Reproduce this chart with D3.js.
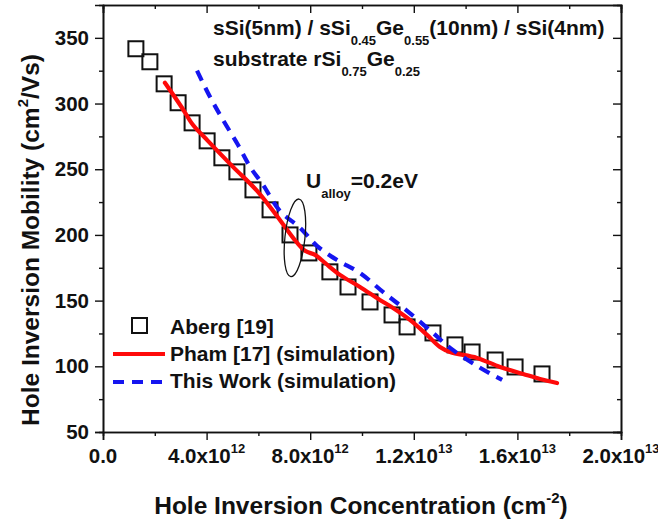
<!DOCTYPE html>
<html><head><meta charset="utf-8">
<script src="https://cdn.jsdelivr.net/npm/d3@7"></script>
<style>
body{margin:0;background:#fff}
text{font-family:"Liberation Sans",Arial,sans-serif;font-weight:bold;fill:#111}
</style>
</head><body>
<svg id="c" width="658" height="523"></svg>
<script>
// ---- data ----
const abergX = [1.27e12,1.81e12,2.36e12,2.90e12,3.44e12,4.02e12,4.59e12,5.17e12,5.79e12,6.45e12,7.22e12,7.95e12,8.76e12,9.46e12,1.031e13,1.116e13,1.174e13,1.274e13,1.359e13,1.425e13,1.514e13,1.591e13,1.695e13];
const abergY = [341.7,331.8,315,300.6,285.3,271.6,258.7,248,234.3,219.1,200,186.3,171.9,160.4,149,139.1,130,125.4,116.3,110.9,104.8,99.5,94.2];
const phamX = [2.39e12,3.05e12,3.47e12,4.05e12,5.02e12,5.95e12,6.83e12,7.34e12,7.80e12,8.19e12,8.57e12,9.15e12,9.92e12,1.069e13,1.12e13,1.185e13,1.251e13,1.301e13,1.34e13,1.444e13,1.533e13,1.622e13,1.687e13,1.753e13];
const phamY = [315.8,296.8,283.8,271.6,251.8,233.5,211.4,197.8,187.9,184.8,178.7,169.6,160.4,150.5,144.4,135.3,123.9,114.7,110.9,106.4,99.5,94.2,90.4,87.3];
const workX = [3.63e12,4.13e12,4.63e12,5.21e12,5.68e12,6.18e12,6.83e12,7.61e12,8.26e12,9.03e12,9.92e12,1.081e13,1.174e13,1.274e13,1.34e13,1.444e13,1.541e13];
const workY = [325,305.1,287.6,268.6,251.8,238.1,218.3,205.4,191.7,181,171.1,156.6,142.2,125.4,114,100.3,89.6];
const xMajor = [0,4e12,8e12,1.2e13,1.6e13,2e13];
const xMinor = [2e12,6e12,1e13,1.4e13,1.8e13];
const yMajor = [50,100,150,200,250,300,350];
const yMinor = [75,125,175,225,275,325];
const legendLabels = ["Aberg [19]","Pham [17] (simulation)","This Work (simulation)"];

const svg = d3.select("#c");
const L=103,R=621,T=5,B=432;
const x = d3.scaleLinear([0,2e13],[L,R]);
const y = d3.scaleLinear([50,375],[B,T]);

function fmtX(v){
  if(v===0) return ["0.0",null];
  const e=Math.floor(Math.log10(v)+1e-9);
  return [(v/Math.pow(10,e)).toFixed(1)+"x10", String(e)];
}

// axes
svg.append("g").attr("transform",`translate(0,${B})`)
  .call(d3.axisBottom(x).tickValues(xMajor).tickSize(8).tickFormat(""));
svg.append("g").attr("transform",`translate(0,${B})`)
  .call(d3.axisBottom(x).tickValues(xMinor).tickSize(4).tickFormat(""));
svg.append("g").attr("transform",`translate(0,${T})`)
  .call(d3.axisTop(x).tickValues(xMajor).tickSize(-8).tickFormat(""));
svg.append("g").attr("transform",`translate(0,${T})`)
  .call(d3.axisTop(x).tickValues(xMinor).tickSize(-4).tickFormat(""));
const gL = svg.append("g").attr("transform",`translate(${L},0)`)
  .call(d3.axisLeft(y).tickValues(yMajor).tickSize(8).tickPadding(6).tickFormat(d3.format("d")));
svg.append("g").attr("transform",`translate(${L},0)`)
  .call(d3.axisLeft(y).tickValues(yMinor).tickSize(4).tickFormat(""));
svg.append("g").attr("transform",`translate(${R},0)`)
  .call(d3.axisRight(y).tickValues(yMajor).tickSize(-8).tickFormat(""));
svg.append("g").attr("transform",`translate(${R},0)`)
  .call(d3.axisRight(y).tickValues(yMinor).tickSize(-4).tickFormat(""));
svg.selectAll(".domain").attr("stroke","#111").attr("stroke-width",1.6);
svg.selectAll(".tick line").attr("stroke","#111").attr("stroke-width",1.4);
gL.selectAll(".tick text").style("font-size","20.5px").attr("fill","#111")
  .style("font-family",'"Liberation Sans",Arial,sans-serif').style("font-weight","bold");

// x tick labels
xMajor.forEach(v=>{
  const [m,e]=fmtX(v);
  const t=svg.append("text").attr("x",x(v)).attr("y",463).attr("text-anchor","middle").style("font-size","20.5px");
  t.append("tspan").text(m);
  if(e){ t.append("tspan").attr("dy",-10).style("font-size","13px").text(e); }
});

// axis titles
const xt = svg.append("text").attr("x",361).attr("y",514).attr("text-anchor","middle").style("font-size","24.5px");
xt.append("tspan").text("Hole Inversion Concentration (cm");
xt.append("tspan").attr("dy",-11).style("font-size","15px").text("-2");
xt.append("tspan").attr("dy",11).text(")");

const yt = svg.append("text").attr("transform",`translate(39,240) rotate(-90)`).attr("text-anchor","middle").style("font-size","24.5px");
yt.append("tspan").text("Hole Inversion Mobility (cm");
yt.append("tspan").attr("dy",-11).style("font-size","15px").text("2");
yt.append("tspan").attr("dy",11).text("/Vs)");

// marks
const g = svg.append("g");
g.selectAll("rect.ab").data(abergX.map((d,i)=>[d,abergY[i]])).enter().append("rect")
  .attr("x",d=>x(d[0])-7.5).attr("y",d=>y(d[1])-7.5).attr("width",15).attr("height",15)
  .attr("fill","none").attr("stroke","#111").attr("stroke-width",2);
const line = d3.line().x(d=>x(d[0])).y(d=>y(d[1])).curve(d3.curveCatmullRom.alpha(0.5));
g.append("path").datum(phamX.map((d,i)=>[d,phamY[i]])).attr("d",line)
  .attr("fill","none").attr("stroke","#ff0a0a").attr("stroke-width",4.2).attr("stroke-linecap","round");
g.append("path").datum(workX.map((d,i)=>[d,workY[i]])).attr("d",line)
  .attr("fill","none").attr("stroke","#1515f0").attr("stroke-width",4.2).attr("stroke-dasharray","11,8").attr("stroke-linecap","butt");

// ellipse annotation
svg.append("ellipse").attr("cx",x(7.41e12)).attr("cy",y(197.8)).attr("rx",10).attr("ry",39)
  .attr("transform",`rotate(6,${x(7.41e12)},${y(197.8)})`)
  .attr("fill","none").attr("stroke","#111").attr("stroke-width",1.3);

// annotations
function rich(xp,yp,parts,size){
  const t=svg.append("text").attr("x",xp).attr("y",yp).style("font-size",size+"px");
  let cur=0;
  parts.forEach(p=>{
    const off=p[1]||0;
    const ts=t.append("tspan").text(p[0]).attr("dy",off-cur);
    if(p[2]) ts.style("font-size",p[2]+"px");
    cur=off;
  });
  return t;
}
rich(213,35,[["sSi(5nm) / sSi"],["0.45",10,13],["Ge"],["0.55",10,13],["(10nm) / sSi(4nm)"]],21);
rich(213,66,[["substrate rSi"],["0.75",10,13],["Ge"],["0.25",10,13]],21);
rich(306,188,[["U"],["alloy",10,13],["=0.2eV"]],21);

// legend
svg.append("rect").attr("x",132).attr("y",318).attr("width",15).attr("height",15)
  .attr("fill","none").attr("stroke","#111").attr("stroke-width",2);
svg.append("line").attr("x1",113).attr("x2",165).attr("y1",354).attr("y2",354)
  .attr("stroke","#ff0a0a").attr("stroke-width",4.2);
svg.append("line").attr("x1",113).attr("x2",165).attr("y1",382).attr("y2",382)
  .attr("stroke","#1515f0").attr("stroke-width",4.2).attr("stroke-dasharray","11,8");
legendLabels.forEach((s,i)=>{
  svg.append("text").attr("x",170).attr("y",334+i*27).style("font-size","21px").text(s);
});
</script>
</body></html>
